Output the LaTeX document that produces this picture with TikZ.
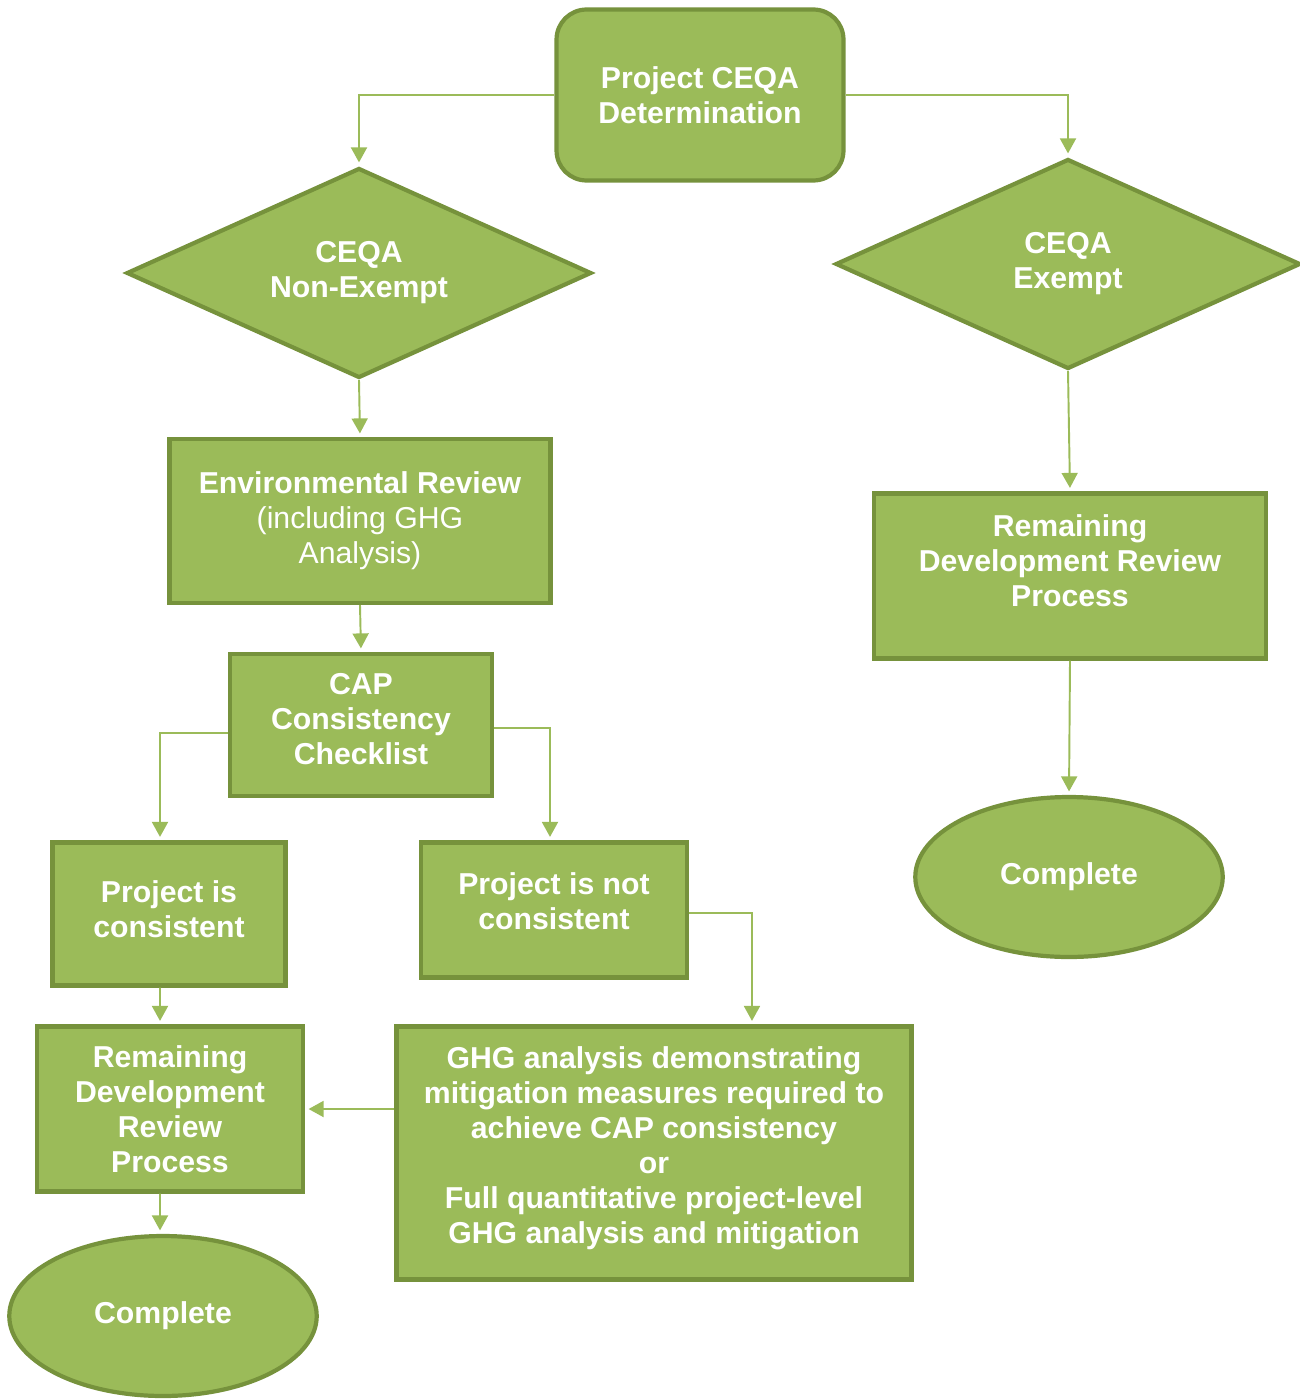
\documentclass[tikz,border=0pt]{standalone}
\usepackage{fontspec}
\setmainfont{Liberation Sans}
\usetikzlibrary{shapes.geometric, arrows.meta, positioning}
\definecolor{leaf}{HTML}{9BBB59}
\definecolor{leafdark}{HTML}{76923C}

\begin{document}
\begin{tikzpicture}[x=0.02cm, y=-0.02cm,
    box/.style={draw=leafdark, line width=2.4pt, fill=leaf, text=white, align=center,
        font=\fontsize{17.2}{20}\selectfont\bfseries, inner sep=0pt},
    lift/.style={text depth=#1},
    choice/.style={box, diamond, aspect=2.2, minimum width=9.3cm, minimum height=4.2cm},
    oval/.style={box, ellipse, minimum width=6.15cm, minimum height=3.2cm},
    flow/.style={draw=leaf, line width=1.1pt, -{Triangle[width=0.32cm, length=0.3cm]}, shorten >=2pt},
  ]
    \useasboundingbox (0,0) rectangle (1299,1399);

    % top of the chart
    \node[box, rounded corners=0.6cm, minimum width=5.74cm, minimum height=3.42cm] (det) at (700,95) {Project CEQA\\Determination};
    \node[choice] (nonex) at (359,273) {CEQA\\Non-Exempt};
    \node[choice] (ex) at (1068,264) {CEQA\\Exempt};

    % exempt branch
    \node[box, lift=18pt, minimum width=7.84cm, minimum height=3.3cm] (revright) at (1070,576) {Remaining\\Development Review\\Process};
    \node[oval] (doneright) at (1069,877) {Complete};

    % non-exempt branch
    \node[box, minimum width=7.62cm, minimum height=3.28cm] (env) at (360,521) {Environmental Review\\\mdseries(including GHG\\\mdseries Analysis)};
    \node[box, lift=7pt, minimum width=5.24cm, minimum height=2.84cm] (cap) at (361,725) {CAP\\Consistency\\Checklist};
    \node[box, lift=5.6pt, minimum width=4.66cm, minimum height=2.86cm] (cons) at (169,914) {Project is\\consistent};
    \node[box, lift=10pt, minimum width=5.32cm, minimum height=2.7cm] (notcons) at (554,910) {Project is not\\consistent};
    \node[box, minimum width=5.32cm, minimum height=3.3cm] (revleft) at (170,1109) {Remaining\\Development\\Review\\Process};
    \node[box, lift=9pt, minimum width=10.3cm, minimum height=5.06cm] (ghg) at (654,1153) {GHG analysis demonstrating\\mitigation measures required to\\achieve CAP consistency\\or\\Full quantitative project-level\\GHG analysis and mitigation};
    \node[oval] (doneleft) at (163,1316) {Complete};

    % connectors
    \draw[flow] (det.west) -| (nonex.north);
    \draw[flow] (det.east) -| (ex.north);
    \draw[flow] (ex.south) -- (revright.north);
    \draw[flow] (revright.south) -- (doneright.north);
    \draw[flow] (nonex.south) -- (env.north);
    \draw[flow] (env.south) -- (cap.north);
    \draw[flow] ([yshift=-0.16cm]cap.west) -| ([xshift=-0.18cm]cons.north);
    \draw[flow] ([yshift=-0.06cm]cap.east) -| ([xshift=-0.08cm]notcons.north);
    \draw[flow] ([xshift=-0.18cm]cons.south) -- ([xshift=-0.2cm]revleft.north);
    \draw[flow] ([yshift=-0.06cm]notcons.east) -| ([xshift=1.96cm]ghg.north);
    \draw[flow] (ghg.west |- revleft.east) -- (revleft.east);
    \draw[flow] ([xshift=-0.2cm]revleft.south) -- ([xshift=-0.06cm]doneleft.north);
\end{tikzpicture}
\end{document}
